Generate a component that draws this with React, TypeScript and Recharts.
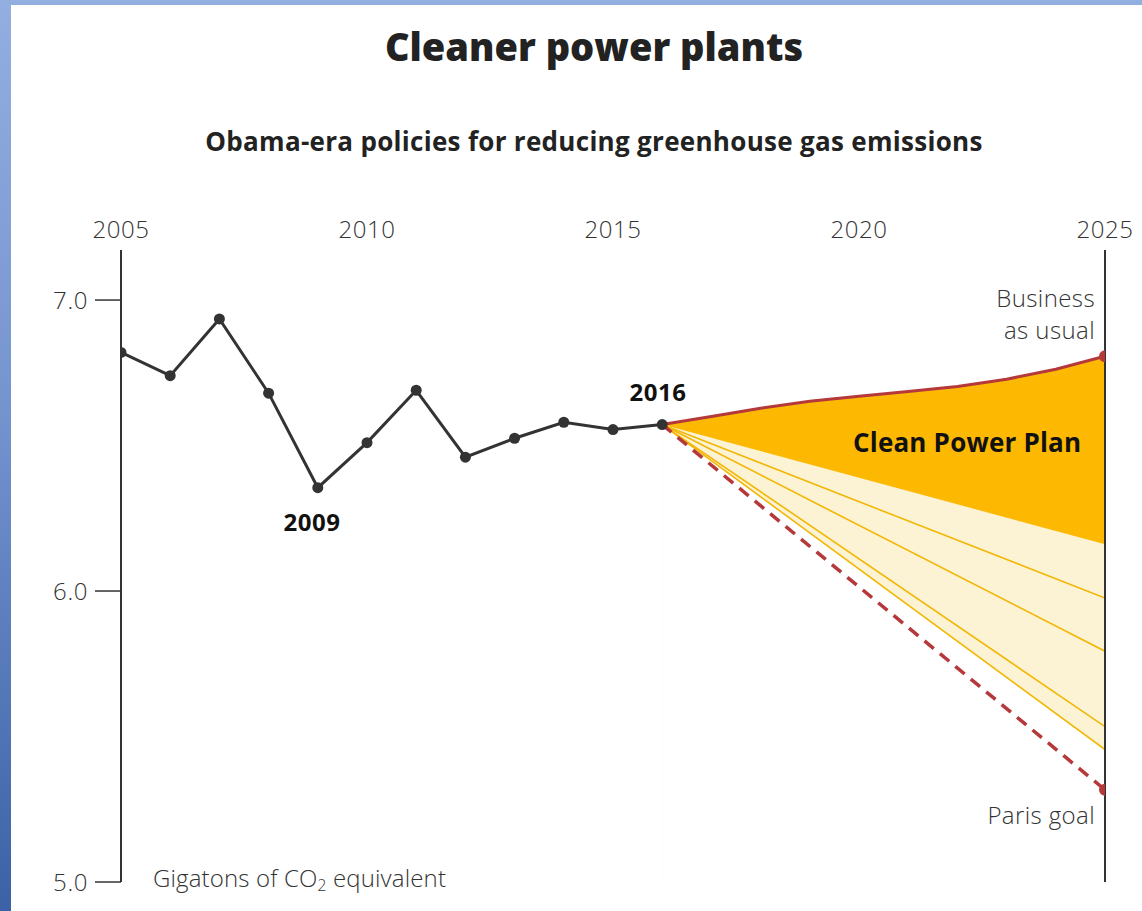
import React from "react";
import {
  ComposedChart,
  Line,
  Area,
  XAxis,
  YAxis,
  ReferenceLine,
} from "recharts";

// Historical emissions, 2005–2016 (gigatons of CO2 equivalent)
const historyYears = [2005, 2006, 2007, 2008, 2009, 2010, 2011, 2012, 2013, 2014, 2015, 2016];
const historyValues = [6.82, 6.74, 6.935, 6.68, 6.355, 6.51, 6.69, 6.46, 6.525, 6.58, 6.555, 6.572];

// Business-as-usual projection, 2016–2025
const projectionYears = [2016, 2017, 2018, 2019, 2020, 2021, 2022, 2023, 2024, 2025];
const businessAsUsual = [6.572, 6.6, 6.628, 6.652, 6.669, 6.686, 6.703, 6.728, 6.762, 6.807];

// Straight-line scenarios from 2016 to 2025: start and end values
const startYear = 2016;
const endYear = 2025;
const startValue = 6.572;
const cleanPowerPlanEnd = 6.161;
const pathwayEnds = [5.976, 5.793, 5.534, 5.455];
const parisGoalEnd = 5.317;

const yearTicks = [2005, 2010, 2015, 2020, 2025];
const valueTicks = [5, 6, 7];

const historyData = historyYears.map((year, i) => ({ year, v: historyValues[i] }));
const bauData = projectionYears.map((year, i) => ({ year, v: businessAsUsual[i] }));
const straight = (end: number) => [
  { year: startYear, v: startValue },
  { year: endYear, v: end },
];
const cppEdgeData = straight(cleanPowerPlanEnd);
const lowestPathwayData = straight(pathwayEnds[pathwayEnds.length - 1]);
const parisData = straight(parisGoalEnd);

const DARK = "#333333";
const RED = "#b5383b";
const ORANGE = "#fdb902";
const CREAM = "#fcf2d4";
const GOLD = "#f2b705";
const LIGHT_FONT = "'Open Sans', Lato, sans-serif";
const BOLD_FONT = "'Open Sans', Lato, sans-serif";

// Dot drawn only on the final point of a series
const EndDot = (props: any) => {
  const { cx, cy, index, points } = props;
  if (points && index !== points.length - 1) return <g key={`e-${index}`} />;
  if (cx == null || cy == null) return <g key={`e-${index}`} />;
  return <circle key={`e-${index}`} cx={cx} cy={cy} r={6} fill={RED} stroke="none" />;
};

type NoteProps = {
  x: number;
  y: number;
  align?: "left" | "center" | "right";
  size: number;
  weight?: number;
  color?: string;
  font?: string;
  spacing?: number;
  children: React.ReactNode;
};

// Absolutely placed annotation; (x, y) is the anchor point, y is the vertical centre
const Note = ({
  x,
  y,
  align = "left",
  size,
  weight = 300,
  color = DARK,
  font = LIGHT_FONT,
  spacing = 0.4,
  children,
}: NoteProps) => {
  const shift = align === "center" ? "-50%" : align === "right" ? "-100%" : "0";
  return (
    <div
      style={{
        position: "absolute",
        left: x,
        top: y,
        transform: `translate(${shift}, -50%)`,
        fontSize: size,
        fontWeight: weight,
        fontFamily: font,
        letterSpacing: spacing,
        color,
        lineHeight: 1,
        whiteSpace: "nowrap",
        textAlign: align,
      }}
    >
      {children}
    </div>
  );
};

const tickStyle = {
  fontSize: 24,
  fill: DARK,
  fontFamily: LIGHT_FONT,
  fontWeight: 300,
  letterSpacing: 0.6,
};

export default function App() {
  return (
    <div
      style={{
        position: "absolute",
        left: 0,
        top: 0,
        width: 1142,
        height: 911,
        overflow: "hidden",
        background: "linear-gradient(180deg, #93afe0 0%, #7593cf 45%, #3b62a6 100%)",
      }}
    >
      <div
        style={{
          position: "absolute",
          left: 11,
          top: 5,
          width: 1131,
          height: 906,
          background: "#ffffff",
        }}
      />
      <div style={{ position: "absolute", left: 0, top: 0 }}>
        <ComposedChart
          width={1142}
          height={911}
          margin={{ top: 220, right: 37, bottom: 29, left: 60 }}
        >
          <XAxis
            type="number"
            dataKey="year"
            orientation="top"
            xAxisId="x"
            domain={[2005, 2025]}
            ticks={yearTicks}
            allowDataOverflow
            axisLine={false}
            tickLine={false}
            tickSize={0}
            tickMargin={12}
            height={30}
            tick={tickStyle}
          />
          <YAxis
            type="number"
            yAxisId="y"
            domain={[5, 7.172]}
            ticks={valueTicks}
            allowDataOverflow
            width={61}
            tickFormatter={(v: number) => v.toFixed(1)}
            axisLine={{ stroke: DARK, strokeWidth: 2 }}
            tickLine={{ stroke: DARK, strokeWidth: 1.5 }}
            tickSize={26}
            tickMargin={7}
            tick={tickStyle}
          />

          {/* Clean Power Plan band: business as usual down to the plan's edge */}
          <Area
            xAxisId="x"
            yAxisId="y"
            data={bauData}
            dataKey="v"
            type="linear"
            fill={ORANGE}
            fillOpacity={1}
            stroke="none"
            isAnimationActive={false}
          />
          {/* Range of deeper-cut pathways */}
          <Area
            xAxisId="x"
            yAxisId="y"
            data={cppEdgeData}
            dataKey="v"
            type="linear"
            fill={CREAM}
            fillOpacity={1}
            stroke="none"
            isAnimationActive={false}
          />
          <Area
            xAxisId="x"
            yAxisId="y"
            data={lowestPathwayData}
            dataKey="v"
            type="linear"
            fill="#ffffff"
            fillOpacity={1}
            stroke="none"
            isAnimationActive={false}
          />

          {pathwayEnds.map((end, i) => (
            <Line
              key={`pathway-${i}`}
              xAxisId="x"
              yAxisId="y"
              data={straight(end)}
              dataKey="v"
              type="linear"
              stroke={GOLD}
              strokeWidth={1.6}
              dot={false}
              isAnimationActive={false}
            />
          ))}

          <Line
            xAxisId="x"
            yAxisId="y"
            data={parisData}
            dataKey="v"
            type="linear"
            stroke={RED}
            strokeWidth={3.5}
            strokeDasharray="12 8"
            dot={EndDot}
            isAnimationActive={false}
          />
          <Line
            xAxisId="x"
            yAxisId="y"
            data={bauData}
            dataKey="v"
            type="linear"
            stroke={RED}
            strokeWidth={3}
            dot={EndDot}
            isAnimationActive={false}
          />

          <ReferenceLine xAxisId="x" yAxisId="y" x={2025} stroke={DARK} strokeWidth={2} />

          <Line
            xAxisId="x"
            yAxisId="y"
            data={historyData}
            dataKey="v"
            type="linear"
            stroke={DARK}
            strokeWidth={3}
            dot={{ r: 5.5, fill: DARK, stroke: "none" }}
            isAnimationActive={false}
          />
        </ComposedChart>
      </div>

      <Note x={594} y={46} align="center" size={38} weight={800} color="#222" font={BOLD_FONT} spacing={0}>
        Cleaner power plants
      </Note>
      <Note x={594} y={141} align="center" size={26} weight={700} color="#222" font={BOLD_FONT} spacing={0.3}>
        Obama-era policies for reducing greenhouse gas emissions
      </Note>

      <Note x={658} y={392} align="center" size={24} weight={700} color="#111" font={BOLD_FONT} spacing={0.5}>
        2016
      </Note>
      <Note x={312} y={522} align="center" size={24} weight={700} color="#111" font={BOLD_FONT} spacing={0.5}>
        2009
      </Note>
      <Note x={853} y={442} size={26} weight={700} color="#111" font={BOLD_FONT} spacing={0.2}>
        Clean Power Plan
      </Note>

      <Note x={1095} y={298} align="right" size={24}>
        Business
      </Note>
      <Note x={1095} y={330} align="right" size={24}>
        as usual
      </Note>
      <Note x={1095} y={815} align="right" size={24}>
        Paris goal
      </Note>
      <Note x={153} y={878} size={24} spacing={0.15}>
        Gigatons of CO<sub style={{ fontSize: "0.65em", verticalAlign: "-0.25em", lineHeight: 0 }}>2</sub> equivalent
      </Note>
    </div>
  );
}
